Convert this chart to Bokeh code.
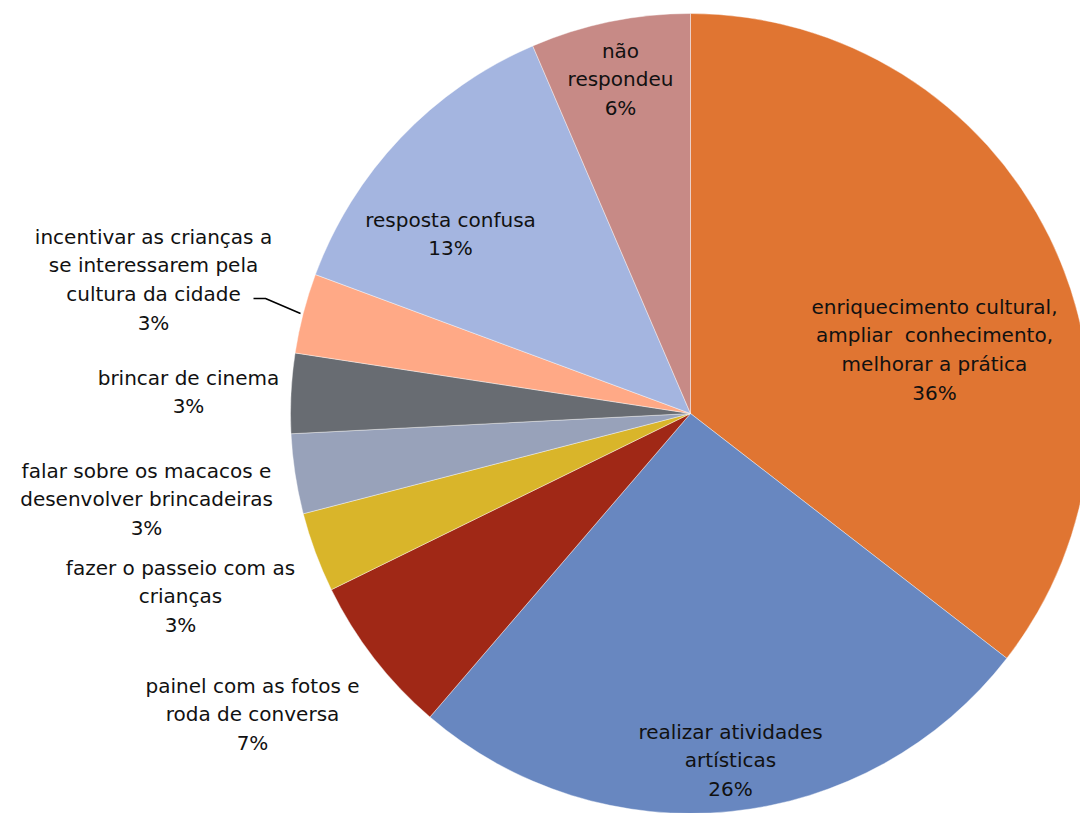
import math
from bokeh.plotting import figure
from bokeh.models import Range1d, ColumnDataSource
from bokeh.core.properties import value
from bokeh.embed import file_html
from bokeh.resources import INLINE

# ---- data (clockwise from 12 o'clock) ----
categories = [
    "enriquecimento cultural,\nampliar\u00a0 conhecimento,\nmelhorar a prática",
    "realizar atividades\nartísticas",
    "painel com as fotos e\nroda de conversa",
    "fazer o passeio com as\ncrianças",
    "falar sobre os macacos e\ndesenvolver brincadeiras",
    "brincar de cinema",
    "incentivar as crianças a\nse interessarem pela\ncultura da cidade",
    "resposta confusa",
    "não\nrespondeu",
]
counts = [11, 8, 2, 1, 1, 1, 1, 4, 2]
pct_labels = ["36%", "26%", "7%", "3%", "3%", "3%", "3%", "13%", "6%"]
colors = ["#E07532", "#6887C0", "#A02816", "#D9B52A", "#98A2BA",
          "#686C72", "#FFA986", "#A4B5E0", "#C78A86"]

# label anchor (screen px, centre of first line)
label_pos = [(934, 306), (730, 731), (252, 685), (180, 567), (146, 470),
             (188, 377), (153, 236), (450, 219), (620, 50)]

W, H = 1080, 813
p = figure(width=W, height=H, output_backend="svg", toolbar_location=None,
           x_range=Range1d(0, W), y_range=Range1d(0, H),
           min_border=0)
p.axis.visible = False
p.grid.visible = False
p.outline_line_color = None
p.background_fill_color = "white"

cx, cy, r = 690, H - 413, 400
total = sum(counts)
starts, ends = [], []
cum = 0.0
for c in counts:
    a0 = math.pi / 2 - 2 * math.pi * cum / total
    cum += c
    a1 = math.pi / 2 - 2 * math.pi * cum / total
    starts.append(a0)
    ends.append(a1)

src = ColumnDataSource(dict(start=starts, end=ends, color=colors))
p.wedge(x=cx, y=cy, radius=r, start_angle="start", end_angle="end",
        direction="clock", fill_color="color", line_color="white",
        line_width=0.5, line_alpha=0.8, source=src)

# leader line for "incentivar"
p.line(x=[253, 265, 300], y=[H - 298, H - 298, H - 313],
       line_color="black", line_width=1.5)

lh = 28.7
xs, ys, ts = [], [], []
for cat, pct, (sx, sy) in zip(categories, pct_labels, label_pos):
    lines = cat.split("\n") + [pct]
    for i, t in enumerate(lines):
        xs.append(sx)
        ys.append(H - (sy + i * lh))
        ts.append(t)
p.text(x=xs, y=ys, text=ts, text_align="center", text_baseline="middle",
       text_font=value("DejaVu Sans"), text_font_size="20px", text_color="#111111")

open("out.html", "w").write(file_html(p, INLINE))
